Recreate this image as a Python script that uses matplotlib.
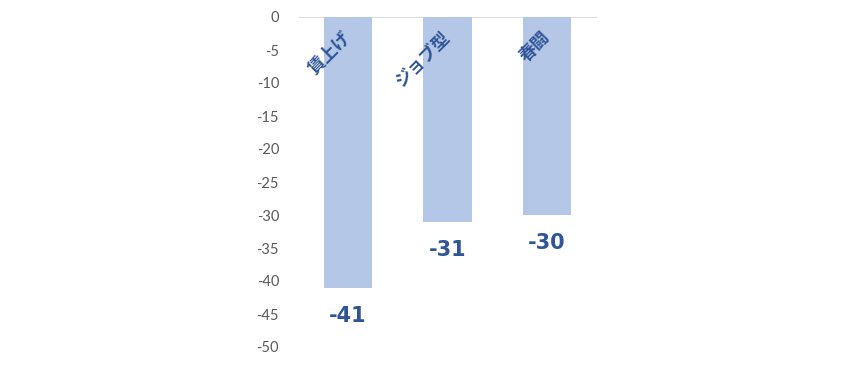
import numpy as np
import matplotlib
matplotlib.use("Agg")
import matplotlib.pyplot as plt

categories = ["賃上げ", "ジョブ型", "春闘"]
values = [-41, -31, -30]
yticks = [0, -5, -10, -15, -20, -25, -30, -35, -40, -45, -50]

bar_color = "#B4C7E7"
text_color = "#2F5597"

fig = plt.figure(figsize=(8.65, 3.7), dpi=100)
ax = fig.add_axes([298.5 / 865, 1 - 347 / 370, 298 / 865, 330 / 370])

x = np.arange(len(categories))
ax.bar(x, values, width=0.485, color=bar_color)
ax.axhline(0, color="#D9D9D9", lw=1.3, zorder=0)

ax.set_xlim(-0.5, len(categories) - 0.5)
ax.set_ylim(-50, 0)
ax.set_yticks(yticks)
ax.set_yticklabels([str(t) for t in yticks], family="Lato",
                   fontsize=10.5, color="#595959")
ax.tick_params(axis="y", length=0, pad=14)
ax.set_xticks([])
for s in ax.spines.values():
    s.set_visible(False)

for i, (c, v) in enumerate(zip(categories, values)):
    ax.text(i + 0.0, -2.6, c, rotation=45, rotation_mode="anchor",
            ha="right", va="center", fontsize=12.5, color=text_color,
            family=["Noto Sans CJK JP", "DejaVu Sans"], fontweight="bold")
    ax.text(i, v - 4.3, str(v), ha="center", va="center", fontsize=15,
            color=text_color, fontweight="bold", family="DejaVu Sans")

fig.savefig("out.png", dpi=100)
